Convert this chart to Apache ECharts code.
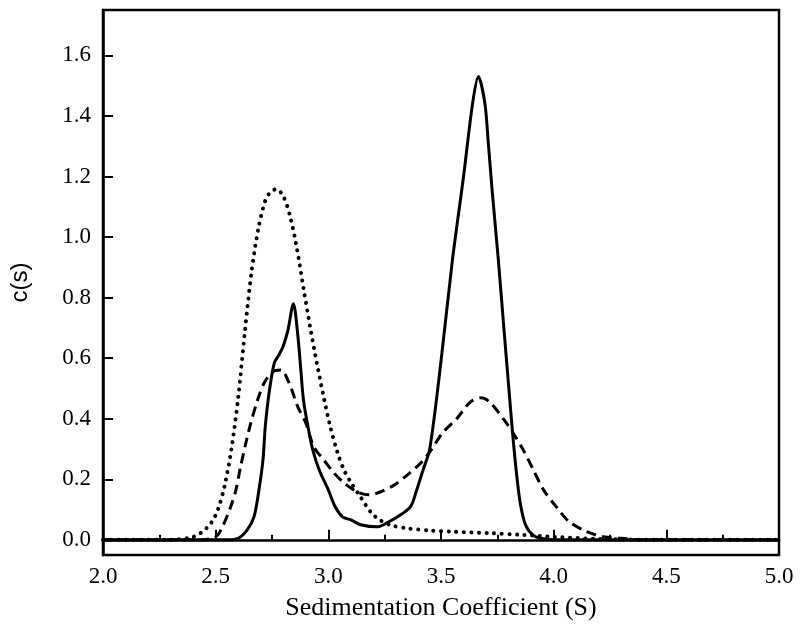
<!DOCTYPE html>
<html>
<head>
<meta charset="utf-8">
<script src="https://cdn.jsdelivr.net/npm/echarts@6/dist/echarts.min.js"></script>
<style>html,body{margin:0;padding:0;background:#fff}#c{width:800px;height:640px}</style>
</head>
<body>
<div id="c"></div>
<script>
var yTicks = [0.0, 0.2, 0.4, 0.6, 0.8, 1.0, 1.2, 1.4, 1.6];

var solidS = [2.0, 2.55, 2.60, 2.64, 2.67, 2.69, 2.71, 2.72, 2.737, 2.76, 2.78, 2.80, 2.82, 2.845, 2.864, 2.877, 2.89, 2.91, 2.93, 2.96, 3.0, 3.03, 3.063, 3.10, 3.143, 3.22, 3.245, 3.307, 3.365, 3.39, 3.42, 3.45, 3.50, 3.55, 3.60, 3.64, 3.666, 3.695, 3.71, 3.728, 3.755, 3.78, 3.80, 3.818, 3.835, 3.852, 3.875, 3.91, 3.955, 4.05, 5.0];
var solidV = [0.0, 0.0, 0.005, 0.033, 0.076, 0.155, 0.264, 0.373, 0.485, 0.584, 0.61, 0.64, 0.69, 0.78, 0.68, 0.57, 0.46, 0.373, 0.30, 0.23, 0.165, 0.11, 0.076, 0.066, 0.05, 0.043, 0.05, 0.076, 0.11, 0.16, 0.23, 0.30, 0.59, 0.92, 1.20, 1.44, 1.53, 1.44, 1.31, 1.145, 0.92, 0.69, 0.51, 0.35, 0.22, 0.12, 0.05, 0.015, 0.004, 0.0, 0.0];

var dashS = [2.0, 2.42, 2.50, 2.53, 2.567, 2.59, 2.61, 2.634, 2.656, 2.686, 2.715, 2.753, 2.79, 2.826, 2.864, 2.90, 2.936, 2.98, 3.025, 3.07, 3.13, 3.18, 3.23, 3.29, 3.35, 3.41, 3.45, 3.51, 3.57, 3.63, 3.68, 3.72, 3.78, 3.82, 3.865, 3.91, 3.955, 4.015, 4.07, 4.15, 4.22, 4.30, 4.40, 5.0];
var dashV = [0.0, 0.0, 0.01, 0.043, 0.11, 0.165, 0.24, 0.32, 0.386, 0.462, 0.518, 0.555, 0.561, 0.518, 0.44, 0.386, 0.307, 0.264, 0.221, 0.188, 0.158, 0.149, 0.158, 0.18, 0.214, 0.254, 0.29, 0.356, 0.40, 0.455, 0.469, 0.452, 0.396, 0.353, 0.297, 0.231, 0.165, 0.106, 0.059, 0.026, 0.01, 0.005, 0.0, 0.0];

var dotS = [2.0, 2.30, 2.40, 2.44, 2.48, 2.51, 2.54, 2.57, 2.60, 2.63, 2.66, 2.69, 2.72, 2.745, 2.77, 2.80, 2.83, 2.86, 2.89, 2.92, 2.95, 2.98, 3.01, 3.04, 3.07, 3.10, 3.14, 3.19, 3.23, 3.28, 3.35, 3.45, 3.55, 3.72, 3.85, 4.0, 4.2, 4.5, 5.0];
var dotV = [0.0, 0.0, 0.01, 0.026, 0.056, 0.10, 0.18, 0.30, 0.47, 0.69, 0.89, 1.03, 1.12, 1.15, 1.158, 1.135, 1.07, 0.965, 0.83, 0.70, 0.58, 0.47, 0.37, 0.29, 0.23, 0.19, 0.145, 0.09, 0.065, 0.048, 0.038, 0.031, 0.027, 0.022, 0.017, 0.01, 0.003, 0.0, 0.0];

function pairs(xs, ys) { return xs.map(function (x, i) { return [x, ys[i]]; }); }

var chart = echarts.init(document.getElementById('c'), null, { renderer: 'canvas' });
var serif = 'Liberation Serif, Times New Roman, serif';
chart.setOption({
  backgroundColor: '#fff',
  animation: false,
  grid: { left: 102, right: 21, top: 10, bottom: 85, show: true, borderColor: '#000', borderWidth: 2.5, backgroundColor: 'transparent' },
  xAxis: {
    type: 'value', min: 2, max: 5, interval: 0.5,
    name: 'Sedimentation Coefficient (S)', nameLocation: 'middle', nameGap: 40,
    nameTextStyle: { fontFamily: serif, fontSize: 26, color: '#000' },
    axisLine: { show: true, lineStyle: { color: '#000', width: 2.5 } },
    axisTick: { show: true, inside: true, length: 10, lineStyle: { color: '#000', width: 2 } },
    minorTick: { show: true, splitNumber: 2, length: 5, lineStyle: { color: '#000', width: 2 } },
    axisLabel: { fontFamily: serif, fontSize: 23, color: '#000', margin: 10, formatter: function (v) { return v.toFixed(1); } },
    splitLine: { show: false }
  },
  yAxis: {
    type: 'value', min: -0.05, max: 1.75,
    name: 'c(s)', nameLocation: 'middle', nameGap: 71,
    nameTextStyle: { fontFamily: 'Liberation Sans, Arial, sans-serif', fontSize: 24, color: '#000' },
    axisLine: { show: true, lineStyle: { color: '#000', width: 2.5 } },
    axisTick: { show: true, inside: true, length: 10, customValues: yTicks, lineStyle: { color: '#000', width: 2 } },
    axisLabel: { fontFamily: serif, fontSize: 23, color: '#000', margin: 12, customValues: yTicks, formatter: function (v) { return v.toFixed(1); } },
    splitLine: { show: false }
  },
  series: [
    { name: 'dotted', type: 'line', data: pairs(dotS, dotV), showSymbol: false, smooth: 0.3,
      lineStyle: { color: '#000', width: 4, type: [0.1, 7.5], cap: 'round' } },
    { name: 'dashed', type: 'line', data: pairs(dashS, dashV), showSymbol: false, smooth: 0.3,
      lineStyle: { color: '#000', width: 3, type: [10, 6] } },
    { name: 'solid', type: 'line', data: pairs(solidS, solidV), showSymbol: false, smooth: 0.3,
      lineStyle: { color: '#000', width: 3 } }
  ]
});
</script>
</body>
</html>
